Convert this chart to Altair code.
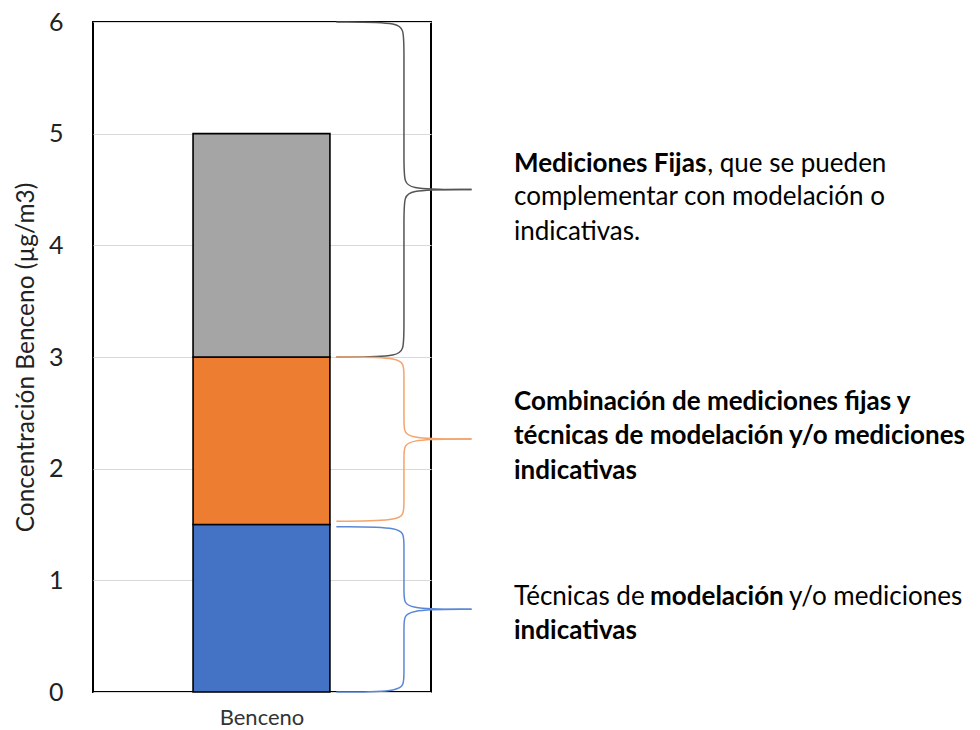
import altair as alt
import pandas as pd

# ---- data ----
category = "Benceno"
segments = ["Técnicas de modelación", "Combinación", "Mediciones fijas"]
seg_values = [1.5, 1.5, 2.0]
seg_colors = ["#4472C4", "#ED7D31", "#A5A5A5"]
y_ticks = [0, 1, 2, 3, 4, 5, 6]

brace_top = [6.0, 3.0, 1.48]
brace_bottom = [3.0, 1.53, 0.0]
brace_colors = ["#555555", "#F4A46C", "#5B88D6"]

FONT = "Lato"
W, H = 338, 670

# bar layout (fraction of plot width)
BAR_L, BAR_R = 0.296, 0.701
BAR_C = (BAR_L + BAR_R) / 2

# stacked segments
rows = []
acc = 0.0
for i, (s, v) in enumerate(zip(segments, seg_values)):
    rows.append({"seg": s, "y0": acc, "y1": acc + v, "i": i})
    acc += v
bars_df = pd.DataFrame(rows)

# braces built from the segment bounds
X0, XV, XT, D = 0.72, 0.92, 1.12, 0.11
brace_rows = []
for b, (t, bt, col) in enumerate(zip(brace_top, brace_bottom, brace_colors)):
    m = (t + bt) / 2
    up = [(X0, t), (XV, t), (XV, t - D), (XV, m + D), (XV, m), (XT, m)]
    lo = [(XT, m), (XV, m), (XV, m - D), (XV, bt + D), (XV, bt), (X0, bt)]
    for h, pts in enumerate([up, lo]):
        for k, (x, y) in enumerate(pts):
            brace_rows.append({"key": f"{b}-{h}", "x": x, "y": y, "k": k, "col": col})
brace_df = pd.DataFrame(brace_rows)

# annotation text
notes = [
    ("Mediciones Fijas", 1.2456, 4.728, "bold"),
    (", que se pueden", 1.817, 4.728, "normal"),
    ("complementar con modelación o", 1.2456, 4.433, "normal"),
    ("indicativas.", 1.2456, 4.119, "normal"),
    ("Combinación de mediciones fijas y", 1.2456, 2.597, "bold"),
    ("técnicas de modelación y/o mediciones", 1.2456, 2.293, "bold"),
    ("indicativas", 1.2456, 1.979, "bold"),
    ("Técnicas de", 1.2456, 0.851, "normal"),
    ("modelación", 1.648, 0.851, "bold"),
    ("y/o mediciones", 2.059, 0.851, "normal"),
    ("indicativas", 1.2456, 0.546, "bold"),
]
notes_df = pd.DataFrame(notes, columns=["text", "x", "y", "w"])

xscale = alt.Scale(domain=[0, 1], nice=False, zero=False)
yscale = alt.Scale(domain=[0, 6], nice=False)

bars = alt.Chart(bars_df).mark_bar(stroke="black", strokeWidth=1.6).encode(
    x=alt.datum(BAR_L, scale=xscale,
                axis=alt.Axis(values=[BAR_C], labelExpr="'" + category + "'",
                              title=None, domain=False, ticks=False, grid=False,
                              labelFont=FONT, labelFontSize=22, labelColor="#333333",
                              labelPadding=15)),
    x2=alt.datum(BAR_R),
    y=alt.Y("y0:Q", scale=yscale,
            axis=alt.Axis(values=y_ticks, format="d", title="Concentración Benceno (µg/m3)",
                          titleFont=FONT, titleFontSize=24.5, titleFontWeight="normal",
                          titleColor="#222222", titlePadding=10,
                          labelFont=FONT, labelFontSize=25, labelColor="#222222",
                          labelPadding=30, ticks=False, domain=False,
                          gridColor="#D9D9D9", gridWidth=1)),
    y2="y1:Q",
    color=alt.Color("seg:N", scale=alt.Scale(domain=segments, range=seg_colors), legend=None),
)

braces = alt.Chart(brace_df).mark_line(interpolate="basis", strokeWidth=1.5).encode(
    x=alt.X("x:Q", scale=xscale),
    y=alt.Y("y:Q", scale=yscale),
    detail="key:N",
    order="k:Q",
    color=alt.Color("col:N", scale=None),
)

def text_layer(weight):
    return alt.Chart(notes_df).transform_filter(
        alt.datum.w == weight
    ).mark_text(align="left", baseline="middle", font=FONT, fontSize=26,
                fontWeight=weight, color="#000000").encode(
        x=alt.X("x:Q", scale=xscale),
        y=alt.Y("y:Q", scale=yscale),
        text="text:N",
    )

chart = alt.layer(bars, braces, text_layer("normal"), text_layer("bold")).properties(
    width=W, height=H,
    padding={"left": 5, "top": 2, "right": 0, "bottom": 0},
).configure_view(stroke="black", strokeWidth=2).configure_axis(
    labelFont=FONT, titleFont=FONT
)

chart.save("out.html", embed_options={"renderer": "svg", "actions": False})
